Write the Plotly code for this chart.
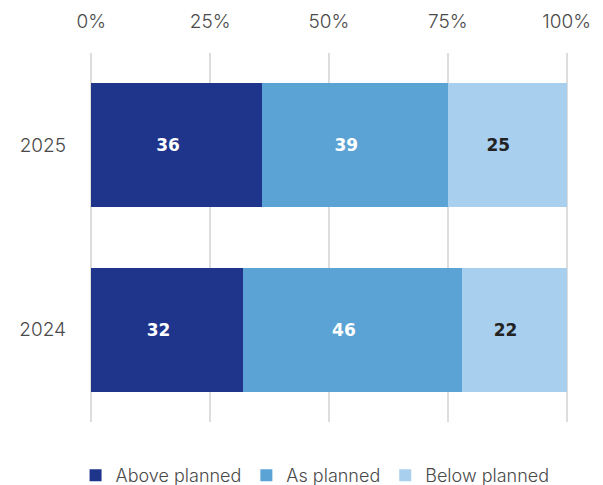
import plotly.graph_objects as go

# Survey years (top to bottom) and share of responses per outcome, in percent
years = ["2024", "2025"]
above_planned = [32, 36]
as_planned = [46, 39]
below_planned = [22, 25]

series = [
    ("Above planned", above_planned, "#1f358b", "#ffffff"),
    ("As planned", as_planned, "#5aa3d4", "#ffffff"),
    ("Below planned", below_planned, "#a9cfee", "#222222"),
]

tick_vals = [0, 25, 50, 75, 100]
tick_text = ["0%", "25%", "50%", "75%", "100%"]

FONT = "Inter, Liberation Sans, sans-serif"
LABEL_FONT = "DejaVu Sans, sans-serif"
NBSP = "\u00a0"

fig = go.Figure()
for name, values, color, text_color in series:
    fig.add_trace(go.Bar(
        y=years,
        x=values,
        name=name,
        orientation="h",
        marker=dict(color=color, line=dict(width=0)),
        text=[str(v) for v in values],
        texttemplate="%{text}" + NBSP * 3,
        textposition="inside",
        insidetextanchor="middle",
        textangle=0,
        textfont=dict(family=LABEL_FONT, size=17, color=text_color, weight="bold"),
        hoverinfo="skip",
    ))

fig.update_layout(
    barmode="stack",
    bargap=0.33,
    width=603,
    height=485,
    margin=dict(l=89, r=34, t=53, b=63, autoexpand=False),
    paper_bgcolor="white",
    plot_bgcolor="white",
    font=dict(family=FONT, size=18, color="#4a4a4a"),
    uniformtext=dict(minsize=17, mode="show"),
    legend=dict(
        orientation="h",
        x=-0.028,
        xanchor="left",
        y=-0.145,
        yanchor="middle",
        font=dict(family=FONT, size=18, color="#4a4a4a", weight=300),
        traceorder="normal",
        itemwidth=30,
    ),
    xaxis=dict(
        side="top",
        range=[-0.5, 100.5],
        tickvals=tick_vals,
        ticktext=tick_text,
        showgrid=True,
        gridcolor="#dddddd",
        gridwidth=1.5,
        zeroline=False,
        showline=False,
        ticks="",
        ticklabelstandoff=20,
        tickfont=dict(family=FONT, size=19, color="#4a4a4a", weight=300),
        fixedrange=True,
    ),
    yaxis=dict(
        categoryorder="array",
        categoryarray=years,
        showgrid=False,
        zeroline=False,
        showline=False,
        ticks="",
        ticklabelstandoff=22,
        tickfont=dict(family=FONT, size=19, color="#4a4a4a", weight=300),
        fixedrange=True,
    ),
)

fig.write_html("out.html")
